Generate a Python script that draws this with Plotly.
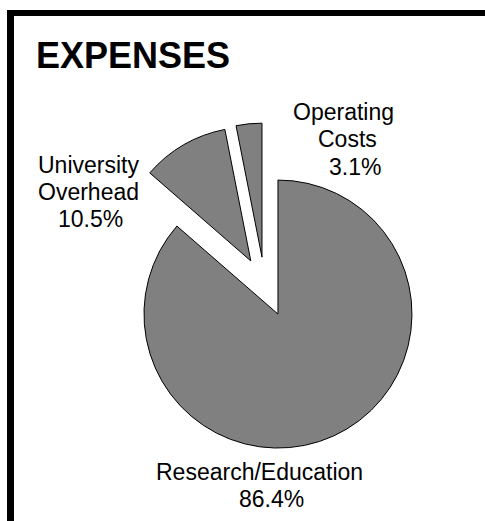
import plotly.graph_objects as go

W, H = 485, 521

categories = ["Research/Education", "University Overhead", "Operating Costs"]
values = [86.4, 10.5, 3.1]
label_lines = [["Research/Education", "86.4%"],
               ["University", "Overhead", "10.5%"],
               ["Operating", "Costs", "3.1%"]]
title_text = "EXPENSES"

# pie geometry (pixels)
R = 134
pulls = [0.239, 0.207, 0.208]
cx, cy = 264.7, 284.9
half = R * (1 + max(pulls))

fig = go.Figure()
fig.add_trace(go.Pie(
    labels=categories, values=values, sort=False, direction="clockwise",
    rotation=0, pull=pulls, textinfo="none", hoverinfo="label+percent",
    marker=dict(colors=["#808080"] * 3, line=dict(color="black", width=1)),
    domain=dict(x=[(cx - half) / W, (cx + half) / W],
                y=[(H - cy - half) / H, (H - cy + half) / H]),
    showlegend=False,
))

def px(x):
    return x / W

def py(y):
    return 1 - y / H

# label line positions (pixel centers)
line_pos = [
    [(259, 472), (271, 499)],
    [(88, 165), (88, 192), (90, 219)],
    [(343, 112), (347, 139), (355, 167)],
]
annotations = []
for lines, poss in zip(label_lines, line_pos):
    for t, (x, y) in zip(lines, poss):
        annotations.append(dict(text=t, x=px(x), y=py(y), xref="paper", yref="paper",
                                xanchor="center", yanchor="middle", showarrow=False,
                                font=dict(family="Liberation Sans, Arial", size=23, color="black")))
annotations.append(dict(text="<b>" + title_text + "</b>", x=px(34), y=py(56), xref="paper", yref="paper",
                        xanchor="left", yanchor="middle", showarrow=False,
                        font=dict(family="Liberation Sans, Arial", size=36, color="black")))

shapes = [
    dict(type="rect", xref="paper", yref="paper", x0=px(7), x1=1.0, y0=py(16), y1=py(10),
         fillcolor="black", line=dict(width=0)),
    dict(type="rect", xref="paper", yref="paper", x0=px(7), x1=px(14), y0=0, y1=py(10),
         fillcolor="black", line=dict(width=0)),
]

fig.update_layout(width=W, height=H, margin=dict(l=0, r=0, t=0, b=0),
                  paper_bgcolor="white", plot_bgcolor="white",
                  annotations=annotations, shapes=shapes)

fig.write_html("out.html")
